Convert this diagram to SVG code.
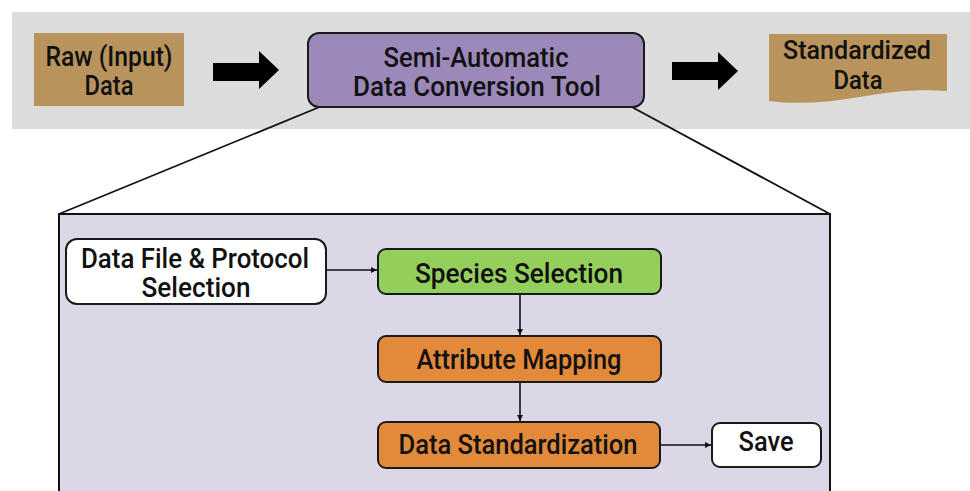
<svg xmlns="http://www.w3.org/2000/svg" width="970" height="491" viewBox="0 0 970 491">
  <style>
    .t { font-family: Roboto, "Liberation Sans", "Noto Sans CJK KR", sans-serif; font-weight: 500; font-size: 27px; fill: #111; text-anchor: middle; }
    .t26 { font-size: 26px; }
    .box { stroke: #1a1a1a; stroke-width: 2; }
    .link { stroke: #111; stroke-width: 1.6; fill: none; }
    .zoomline { stroke: #111; stroke-width: 1.8; fill: none; }
  </style>
  <defs>
    <marker id="head" viewBox="0 0 10 10" refX="10" refY="5" markerWidth="6" markerHeight="6" markerUnits="userSpaceOnUse" orient="auto">
      <path d="M0,0 L10,5 L0,10 Z" fill="#111"/>
    </marker>
  </defs>

  <rect width="970" height="491" fill="#ffffff"/>

  <!-- top process band -->
  <rect x="12" y="12" width="958" height="117" fill="#dcdcdc"/>

  <!-- expansion lines and detail panel -->
  <g id="detail-frame">
    <rect x="59" y="214" width="771" height="290" fill="#dcd7e6" stroke="#111" stroke-width="2"/>
    <line class="zoomline" x1="322" y1="106" x2="59" y2="214"/>
    <line class="zoomline" x1="630" y1="106" x2="830" y2="214"/>
  </g>

  <g id="raw-data">
    <rect x="34" y="33" width="150" height="73" fill="#b8935c"/>
    <text class="t" x="109" y="66" textLength="127" lengthAdjust="spacingAndGlyphs">Raw (Input)</text>
    <text class="t" x="109" y="95" textLength="49" lengthAdjust="spacingAndGlyphs">Data</text>
  </g>

  <g id="conversion-tool">
    <rect class="box" x="308" y="33" width="336" height="74" rx="11" fill="#9c88b9"/>
    <text class="t" x="476" y="67" textLength="185" lengthAdjust="spacingAndGlyphs">Semi-Automatic</text>
    <text class="t" x="477" y="96" textLength="248" lengthAdjust="spacingAndGlyphs">Data Conversion Tool</text>
  </g>

  <g id="standardized-data">
    <path d="M769,34 H947 V91 C915,89 890,92 860,97 C830,102 800,105 769,101 Z" fill="#b8935c"/>
    <text class="t t26" x="857" y="59" textLength="148" lengthAdjust="spacingAndGlyphs">Standardized</text>
    <text class="t t26" x="858" y="89" textLength="49" lengthAdjust="spacingAndGlyphs">Data</text>
  </g>

  <g id="file-selection">
    <rect class="box" x="66" y="239" width="260" height="65" rx="11" fill="#ffffff"/>
    <text class="t" x="195" y="268" textLength="228" lengthAdjust="spacingAndGlyphs">Data File &amp; Protocol</text>
    <text class="t" x="196" y="297" textLength="109" lengthAdjust="spacingAndGlyphs">Selection</text>
  </g>

  <g id="species-selection">
    <rect class="box" x="378" y="249" width="283" height="45" rx="8" fill="#94cf5c"/>
    <text class="t" x="519" y="283" textLength="208" lengthAdjust="spacingAndGlyphs">Species Selection</text>
  </g>

  <g id="attribute-mapping">
    <rect class="box" x="378" y="336" width="283" height="46" rx="8" fill="#e2893a"/>
    <text class="t" x="519" y="369" textLength="205" lengthAdjust="spacingAndGlyphs">Attribute Mapping</text>
  </g>

  <g id="data-standardization">
    <rect class="box" x="378" y="422" width="282" height="46" rx="8" fill="#e2893a"/>
    <text class="t" x="518" y="454" textLength="239" lengthAdjust="spacingAndGlyphs">Data Standardization</text>
  </g>

  <g id="save">
    <rect class="box" x="712" y="423" width="109" height="44" rx="8" fill="#ffffff"/>
    <text class="t" x="766" y="451" textLength="55" lengthAdjust="spacingAndGlyphs">Save</text>
  </g>

  <g id="connectors">
    <!-- block arrows of the main flow -->
    <polygon points="213,63 259,63 259,51 279,70 259,89 259,81 213,81" fill="#000"/>
    <polygon points="672,62 718,62 718,52 738,71 718,90 718,80 672,80" fill="#000"/>
    <!-- detail flow -->
    <line class="link" x1="326" y1="270" x2="377" y2="270" marker-end="url(#head)"/>
    <line class="link" x1="520" y1="294" x2="520" y2="335" marker-end="url(#head)"/>
    <line class="link" x1="520" y1="382" x2="520" y2="421" marker-end="url(#head)"/>
    <line class="link" x1="660" y1="445" x2="711" y2="445" marker-end="url(#head)"/>
  </g>
</svg>
